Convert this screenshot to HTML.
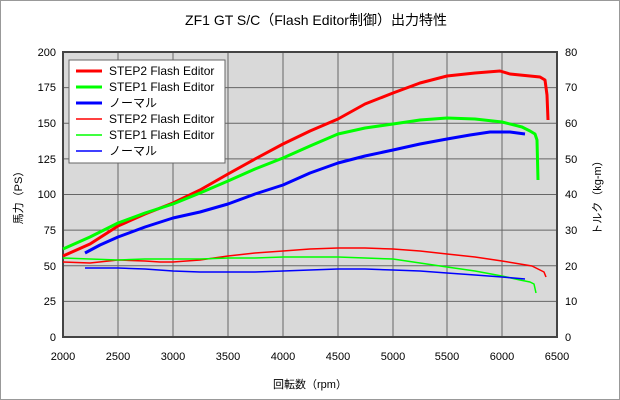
<!DOCTYPE html>
<html><head><meta charset="utf-8"><style>
html,body{margin:0;padding:0;background:#fff}
svg{display:block;font-family:"Liberation Sans","Noto Sans CJK JP",sans-serif}
</style></head><body>
<svg width="620" height="400" viewBox="0 0 620 400" xmlns="http://www.w3.org/2000/svg">
<rect x="0.5" y="0.5" width="619" height="399" fill="#fff" stroke="#999"/>
<text x="316" y="25" font-size="14" text-anchor="middle" fill="#000">ZF1 GT S/C（Flash Editor制御）出力特性</text>
<rect x="63" y="52" width="494" height="285" fill="#d9d9d9"/>
<g stroke="#666" stroke-width="1">
<line x1="118" y1="52" x2="118" y2="337"/><line x1="173" y1="52" x2="173" y2="337"/><line x1="228" y1="52" x2="228" y2="337"/><line x1="283" y1="52" x2="283" y2="337"/><line x1="338" y1="52" x2="338" y2="337"/><line x1="393" y1="52" x2="393" y2="337"/><line x1="447" y1="52" x2="447" y2="337"/><line x1="502" y1="52" x2="502" y2="337"/>
<line x1="63" y1="87.6" x2="557" y2="87.6"/><line x1="63" y1="123.2" x2="557" y2="123.2"/><line x1="63" y1="158.9" x2="557" y2="158.9"/><line x1="63" y1="194.5" x2="557" y2="194.5"/><line x1="63" y1="230.1" x2="557" y2="230.1"/><line x1="63" y1="265.7" x2="557" y2="265.7"/><line x1="63" y1="301.4" x2="557" y2="301.4"/>
</g>
<rect x="63" y="52" width="494" height="285" fill="none" stroke="#444" stroke-width="2"/>
<g font-size="11" fill="#000" text-anchor="end">
<text x="56" y="56">200</text><text x="56" y="91">175</text><text x="56" y="127">150</text><text x="56" y="163">125</text><text x="56" y="198">100</text><text x="56" y="234">75</text><text x="56" y="270">50</text><text x="56" y="305">25</text><text x="56" y="341">0</text>
</g>
<g font-size="11" fill="#000" text-anchor="start">
<text x="565" y="56">80</text><text x="565" y="91">70</text><text x="565" y="127">60</text><text x="565" y="163">50</text><text x="565" y="198">40</text><text x="565" y="234">30</text><text x="565" y="270">20</text><text x="565" y="305">10</text><text x="565" y="341">0</text>
</g>
<g font-size="11" fill="#000" text-anchor="middle">
<text x="63" y="360">2000</text><text x="118" y="360">2500</text><text x="173" y="360">3000</text><text x="228" y="360">3500</text><text x="283" y="360">4000</text><text x="338" y="360">4500</text><text x="393" y="360">5000</text><text x="447" y="360">5500</text><text x="502" y="360">6000</text><text x="557" y="360">6500</text>
</g>
<text x="310" y="388" font-size="11" text-anchor="middle">回転数（rpm）</text>
<text transform="translate(22,195) rotate(-90)" font-size="11" text-anchor="middle">馬力（PS）</text>
<text transform="translate(601,195) rotate(-90)" font-size="11" text-anchor="middle">トルク（kg-m）</text>
<g fill="none" stroke-linejoin="round">
<polyline stroke="#f00" stroke-width="3" points="63,256 90,244 118,226 145,214 173,203 200,190 228,174 255,159 283,144 310,131 338,119 365,104 393,93 420,83 447,76 475,73 500,71 510,74 530,76 540,77 545,80 547,95 548,120"/>
<polyline stroke="#0f0" stroke-width="3" points="63,249 90,237 118,223 145,213 173,204 200,193 228,181 255,169 283,158 310,146 338,134 365,128 393,124 420,120 447,118 475,119 502,122 522,127 530,131 535,134 537,140 538,180"/>
<polyline stroke="#00f" stroke-width="3" points="85,253 100,245 118,237 145,227 173,218 200,212 228,204 255,194 283,185 310,173 338,163 365,156 393,150 420,144 447,139 470,135 490,132 510,132 525,134"/>
<polyline stroke="#f00" stroke-width="1.5" points="63,262 90,263 118,260 145,261 160,262 173,262 200,260 228,256 255,253 283,251 310,249 338,248 365,248 393,249 420,251 447,254 475,257 502,261 520,264 532,266 540,270 544,272 546,277"/>
<polyline stroke="#0f0" stroke-width="1.5" points="63,258 90,259 118,260 145,259 173,259 200,259 228,258 255,258 283,257 310,257 338,257 365,258 393,259 420,263 447,267 475,271 502,276 520,280 530,282 534,284 536,293"/>
<polyline stroke="#00f" stroke-width="1.5" points="85,268 100,268 118,268 145,269 173,271 200,272 228,272 255,272 283,271 310,270 338,269 365,269 393,270 420,271 447,273 475,275 502,277 525,279"/>
</g>
<rect x="69" y="60" width="156" height="103" fill="#fff" stroke="#666"/>
<g font-size="12" fill="#000">
<line x1="76" y1="71" x2="102" y2="71" stroke="#f00" stroke-width="3"/><text x="109" y="75">STEP2 Flash Editor</text>
<line x1="76" y1="87" x2="102" y2="87" stroke="#0f0" stroke-width="3"/><text x="109" y="91">STEP1 Flash Editor</text>
<line x1="76" y1="103" x2="102" y2="103" stroke="#00f" stroke-width="3"/><text x="109" y="107">ノーマル</text>
<line x1="76" y1="119" x2="102" y2="119" stroke="#f00" stroke-width="1.5"/><text x="109" y="123">STEP2 Flash Editor</text>
<line x1="76" y1="135" x2="102" y2="135" stroke="#0f0" stroke-width="1.5"/><text x="109" y="139">STEP1 Flash Editor</text>
<line x1="76" y1="151" x2="102" y2="151" stroke="#00f" stroke-width="1.5"/><text x="109" y="155">ノーマル</text>
</g>
</svg>
</body></html>
